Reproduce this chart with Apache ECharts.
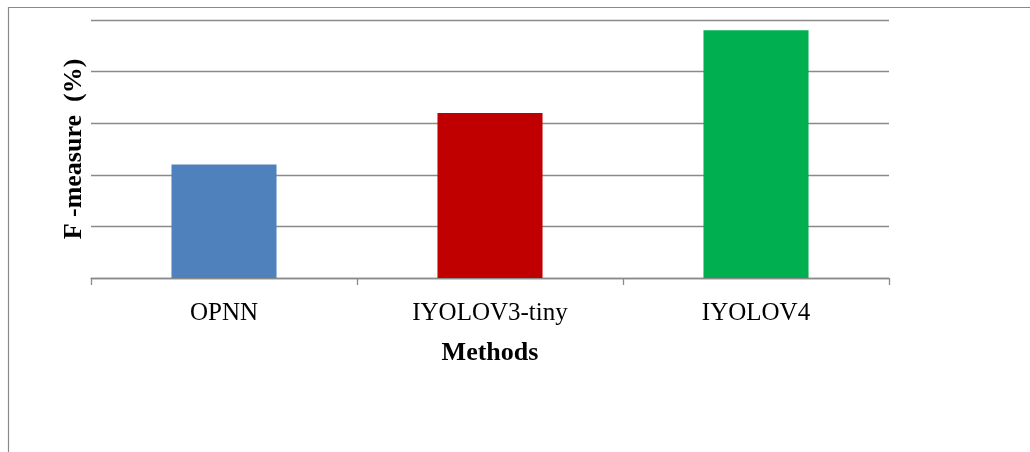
<!DOCTYPE html>
<html>
<head>
<meta charset="utf-8">
<script src="https://cdn.jsdelivr.net/npm/echarts@6/dist/echarts.min.js"></script>
<style>
  html, body { margin: 0; padding: 0; background: #ffffff; }
  #chart { width: 1030px; height: 452px; }
</style>
</head>
<body>
<div id="chart"></div>
<script>
// Methods compared and their F-measure (%)
const methods = ['OPNN', 'IYOLOV3-tiny', 'IYOLOV4'];
const fMeasure = [44, 64, 96];
const barColors = ['#4F81BD', '#C00000', '#00B050'];

const chart = echarts.init(document.getElementById('chart'), null, { renderer: 'canvas' });

const serif = '"Liberation Serif", "Times New Roman", serif';

chart.setOption({
  animation: false,
  backgroundColor: '#ffffff',
  graphic: [{
    type: 'rect',
    shape: { x: 8.5, y: 7.5, width: 1200, height: 600 },
    style: { fill: 'none', stroke: '#8a8a8a', lineWidth: 1.2 },
    silent: true
  }],
  grid: { left: 91, right: 141, top: 20, bottom: 174 },
  xAxis: {
    type: 'category',
    data: methods,
    name: 'Methods',
    nameLocation: 'middle',
    nameGap: 62,
    nameTextStyle: { fontFamily: serif, fontSize: 26, fontWeight: 'bold', color: '#000' },
    axisLine: { show: true, lineStyle: { color: '#8a8a8a', width: 1.3 } },
    axisTick: { show: true, length: 7, lineStyle: { color: '#8a8a8a', width: 1.3 } },
    axisLabel: { fontFamily: serif, fontSize: 25, color: '#000', margin: 23 }
  },
  yAxis: {
    type: 'value',
    min: 0,
    max: 100,
    interval: 20,
    name: 'F -measure  (%)',
    nameLocation: 'middle',
    nameGap: 4,
    nameRotate: 90,
    nameTextStyle: { fontFamily: serif, fontSize: 26, fontWeight: 'bold', color: '#000' },
    axisLine: { show: false },
    axisTick: { show: false },
    axisLabel: { show: false },
    splitLine: { show: true, lineStyle: { color: '#8a8a8a', width: 1.3 } }
  },
  series: [{
    type: 'bar',
    data: fMeasure.map((v, i) => ({ value: v, itemStyle: { color: barColors[i] } })),
    barWidth: '39.5%'
  }]
});
</script>
</body>
</html>
